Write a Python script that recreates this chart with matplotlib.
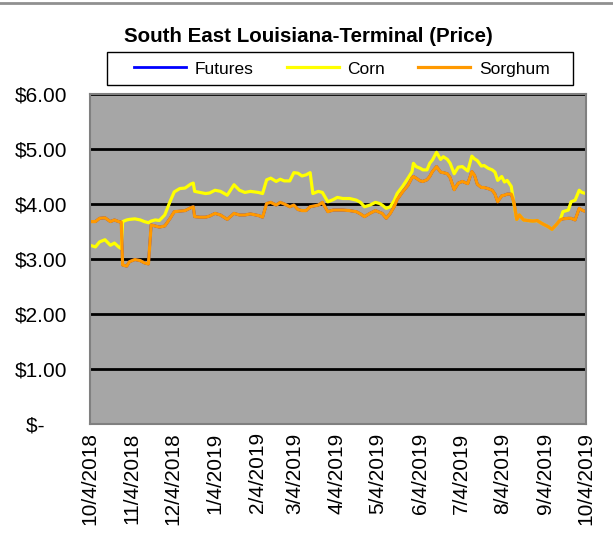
import pandas as pd
import matplotlib
matplotlib.use('Agg')
import matplotlib.pyplot as plt
import matplotlib.dates as mdates
from matplotlib.lines import Line2D
from matplotlib.patches import Rectangle

plt.rcParams['font.family'] = ['Liberation Sans', 'DejaVu Sans']

days = [0, 4, 7, 11, 15, 18, 21, 23, 24, 27, 29, 33, 37, 40, 43, 45, 48, 51, 55, 59,
        62, 66, 70, 74, 76, 77, 81, 85, 88, 92, 96, 101, 106, 110, 114, 118, 124, 127, 130, 133,
        137, 140, 143, 147, 150, 153, 156, 159, 162, 164, 168, 171, 175, 179, 182, 186, 191, 196, 199, 202,
        206, 210, 213, 215, 218, 221, 224, 226, 230, 234, 237, 238, 240, 243, 245, 248, 250, 252, 255, 258,
        260, 263, 265, 268, 271, 274, 278, 281, 283, 285, 288, 290, 293, 296, 298, 300, 303, 305, 307, 310,
        312, 314, 316, 319, 322, 326, 329, 333, 337, 340, 343, 346, 348, 352, 354, 357, 360, 362, 365]

corn = [3.25, 3.22, 3.31, 3.35, 3.25, 3.29, 3.22, 3.19, 3.68, 3.71, 3.72, 3.73, 3.71, 3.68, 3.66, 3.69, 3.71, 3.70, 3.80, 4.05,
        4.22, 4.28, 4.29, 4.36, 4.38, 4.23, 4.21, 4.19, 4.20, 4.25, 4.23, 4.16, 4.35, 4.25, 4.21, 4.23, 4.21, 4.19, 4.44, 4.47,
        4.41, 4.45, 4.42, 4.42, 4.57, 4.56, 4.51, 4.53, 4.57, 4.19, 4.23, 4.21, 4.04, 4.08, 4.12, 4.10, 4.10, 4.07, 4.03, 3.95,
        3.98, 4.03, 4.01, 3.98, 3.92, 3.95, 4.07, 4.19, 4.32, 4.47, 4.59, 4.74, 4.68, 4.65, 4.62, 4.62, 4.74, 4.80, 4.94, 4.81,
        4.86, 4.81, 4.74, 4.55, 4.67, 4.68, 4.60, 4.87, 4.82, 4.79, 4.69, 4.70, 4.65, 4.62, 4.58, 4.43, 4.50, 4.40, 4.43, 4.32,
        4.00, 3.72, 3.80, 3.71, 3.70, 3.69, 3.70, 3.64, 3.59, 3.54, 3.62, 3.71, 3.86, 3.89, 4.04, 4.07, 4.25, 4.21, 4.19]

sorghum = [3.68, 3.68, 3.74, 3.75, 3.68, 3.71, 3.68, 3.67, 2.89, 2.87, 2.95, 2.99, 2.97, 2.93, 2.91, 3.62, 3.60, 3.58, 3.60, 3.74,
           3.86, 3.87, 3.88, 3.93, 3.95, 3.77, 3.76, 3.76, 3.78, 3.83, 3.80, 3.72, 3.83, 3.80, 3.80, 3.82, 3.79, 3.76, 4.01, 4.03,
           3.98, 4.03, 4.00, 3.95, 3.98, 3.90, 3.88, 3.88, 3.95, 3.96, 3.98, 4.03, 3.86, 3.89, 3.89, 3.89, 3.88, 3.86, 3.82, 3.77,
           3.83, 3.88, 3.85, 3.83, 3.74, 3.83, 3.96, 4.08, 4.22, 4.34, 4.48, 4.50, 4.47, 4.42, 4.41, 4.44, 4.50, 4.59, 4.68, 4.58,
           4.57, 4.55, 4.48, 4.26, 4.38, 4.41, 4.37, 4.59, 4.52, 4.36, 4.30, 4.30, 4.28, 4.25, 4.18, 4.04, 4.15, 4.16, 4.18, 4.18,
           4.03, 3.72, 3.80, 3.71, 3.70, 3.69, 3.70, 3.64, 3.59, 3.54, 3.62, 3.71, 3.73, 3.74, 3.74, 3.71, 3.92, 3.89, 3.86]

# futures sits underneath the sorghum line in the picture
futures = list(sorghum)

tick_dates = ['2018-10-04', '2018-11-04', '2018-12-04', '2019-01-04', '2019-02-04', '2019-03-04', '2019-04-04',
              '2019-05-04', '2019-06-04', '2019-07-04', '2019-08-04', '2019-09-04', '2019-10-04']
tick_labels = ['10/4/2018', '11/4/2018', '12/4/2018', '1/4/2019', '2/4/2019', '3/4/2019', '4/4/2019',
               '5/4/2019', '6/4/2019', '7/4/2019', '8/4/2019', '9/4/2019', '10/4/2019']
y_ticks = [0, 1, 2, 3, 4, 5, 6]
y_labels = ['$-    ', '$1.00', '$2.00', '$3.00', '$4.00', '$5.00', '$6.00']

dates = pd.Timestamp('2018-10-04') + pd.to_timedelta(days, unit='D')

fig = plt.figure(figsize=(6.13, 5.43), dpi=100)
ax = fig.add_axes([90 / 613, 1 - 424 / 543, 496 / 613, 330 / 543])
ax.set_facecolor('#A6A6A6')

ax.plot(dates, futures, color='#0000FF', lw=2.0, label='Futures')
ax.plot(dates, corn, color='#FFFF00', lw=2.3, label='Corn')
ax.plot(dates, sorghum, color='#FF9900', lw=2.3, label='Sorghum')

for v in y_ticks[1:]:
    ax.axhline(v, color='black', lw=2.0, zorder=1)

ax.set_ylim(0, 6)
ax.set_xlim(dates[0], dates[-1])
ax.set_yticks(y_ticks)
ax.set_yticklabels(y_labels, fontsize=15)
ax.set_xticks(mdates.date2num(pd.to_datetime(tick_dates)))
ax.set_xticklabels(tick_labels, rotation=90, fontsize=15)
ax.tick_params(axis='y', length=0, pad=16.5)
ax.tick_params(axis='x', length=0, pad=6)
for s in ax.spines.values():
    s.set_color('#808080')
    s.set_linewidth(1.5)

fig.text(308 / 613, 1 - 36 / 543, 'South East Louisiana-Terminal (Price)',
         ha='center', va='center', fontsize=14.8, fontweight='bold')

# legend box drawn separately, entries centred in it
fig.add_artist(Rectangle((107 / 613, 1 - 85 / 543), 466 / 613, 33 / 543, transform=fig.transFigure,
                         facecolor='white', edgecolor='black', lw=1.0))
leg = fig.legend(loc='center', bbox_to_anchor=(342 / 613, 1 - 69 / 543),
                 ncol=3, fontsize=12.5, frameon=False,
                 handlelength=3.0, handletextpad=0.5, columnspacing=1.9, borderaxespad=0)

fig.add_artist(Line2D([0, 1], [1 - 3 / 543, 1 - 3 / 543], color='#909090', lw=2))

plt.savefig('out.png', dpi=100)
